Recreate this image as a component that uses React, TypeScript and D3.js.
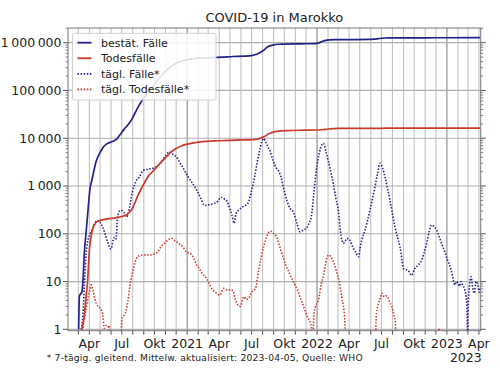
import React from "react";
import * as d3 from "d3";

type P = [string, number];

const cumCases: P[] = [
  ["2020-03-02", 1], ["2020-03-04", 5], ["2020-03-11", 6], ["2020-03-14", 10], ["2020-03-18", 40],
  ["2020-03-23", 110], ["2020-03-28", 300], ["2020-04-03", 900], ["2020-04-08", 1300], ["2020-04-15", 2300],
  ["2020-04-21", 3400], ["2020-05-01", 5000], ["2020-05-10", 6500], ["2020-05-20", 7600], ["2020-06-01", 8300],
  ["2020-06-15", 9300], ["2020-06-25", 11500], ["2020-07-08", 15500], ["2020-07-22", 20500], ["2020-08-01", 27000],
  ["2020-08-14", 42000], ["2020-09-01", 70000], ["2020-09-15", 95000], ["2020-10-01", 135000], ["2020-10-15", 180000],
  ["2020-11-01", 250000], ["2020-11-15", 310000], ["2020-12-01", 370000], ["2020-12-15", 410000], ["2021-01-01", 440000],
  ["2021-01-20", 465000], ["2021-02-10", 476000], ["2021-03-10", 487000], ["2021-04-10", 500000], ["2021-05-10", 514000],
  ["2021-06-10", 523000], ["2021-07-01", 538000], ["2021-07-15", 575000], ["2021-08-01", 670000], ["2021-08-15", 820000],
  ["2021-09-01", 900000], ["2021-09-15", 928000], ["2021-10-01", 937000], ["2021-11-01", 946000], ["2021-12-01", 950000],
  ["2021-12-28", 958000], ["2022-01-06", 990000], ["2022-01-15", 1060000], ["2022-01-25", 1120000], ["2022-02-05", 1150000],
  ["2022-02-20", 1160000], ["2022-04-01", 1163000], ["2022-05-25", 1168000], ["2022-06-10", 1185000], ["2022-06-25", 1225000],
  ["2022-07-10", 1252000], ["2022-07-25", 1260000], ["2022-08-15", 1264000], ["2022-11-01", 1266000], ["2023-01-01", 1270000],
  ["2023-04-05", 1272000],
];

const cumDeaths: P[] = [
  ["2020-03-11", 1], ["2020-03-18", 2], ["2020-03-23", 5], ["2020-03-27", 10], ["2020-04-01", 45],
  ["2020-04-06", 90], ["2020-04-11", 130], ["2020-04-19", 170], ["2020-05-01", 190], ["2020-05-15", 200],
  ["2020-06-10", 213], ["2020-07-01", 230], ["2020-07-15", 250], ["2020-08-01", 350], ["2020-08-15", 620],
  ["2020-09-01", 1100], ["2020-09-15", 1650], ["2020-10-01", 2200], ["2020-10-15", 2900], ["2020-11-01", 3900],
  ["2020-11-15", 5000], ["2020-12-01", 6100], ["2020-12-15", 6900], ["2021-01-01", 7500], ["2021-01-20", 8000],
  ["2021-02-15", 8500], ["2021-04-01", 8850], ["2021-05-01", 9050], ["2021-06-01", 9200], ["2021-07-01", 9350],
  ["2021-07-20", 9700], ["2021-08-05", 10800], ["2021-08-20", 12500], ["2021-09-05", 13800], ["2021-09-20", 14200],
  ["2021-10-10", 14450], ["2021-11-10", 14700], ["2021-12-31", 14850], ["2022-01-15", 15050], ["2022-02-01", 15600],
  ["2022-02-15", 15900], ["2022-03-05", 16030], ["2022-06-15", 16080], ["2022-07-15", 16200], ["2022-08-15", 16270],
  ["2023-04-05", 16297],
];

const dailyCases: P[] = [
  ["2020-03-09", 1], ["2020-03-14", 2], ["2020-03-18", 8], ["2020-03-22", 30], ["2020-03-27", 67],
  ["2020-04-02", 95], ["2020-04-08", 120], ["2020-04-14", 150], ["2020-04-20", 180], ["2020-04-27", 190],
  ["2020-05-03", 165], ["2020-05-09", 135], ["2020-05-16", 95], ["2020-05-23", 65], ["2020-06-01", 48],
  ["2020-06-07", 75], ["2020-06-11", 85], ["2020-06-15", 78], ["2020-06-19", 210], ["2020-06-25", 300],
  ["2020-06-30", 310], ["2020-07-07", 280], ["2020-07-15", 225], ["2020-07-22", 330], ["2020-07-31", 750],
  ["2020-08-10", 1250], ["2020-08-20", 1550], ["2020-08-30", 2100], ["2020-09-12", 2250], ["2020-09-27", 2350],
  ["2020-10-08", 2600], ["2020-10-18", 3000], ["2020-10-28", 3900], ["2020-11-05", 4700], ["2020-11-12", 5200],
  ["2020-11-20", 4700], ["2020-12-01", 4100], ["2020-12-15", 2800], ["2020-12-29", 1850], ["2021-01-12", 1250],
  ["2021-01-23", 950], ["2021-02-05", 620], ["2021-02-20", 390], ["2021-03-05", 410], ["2021-03-18", 430],
  ["2021-03-28", 480], ["2021-04-06", 580], ["2021-04-15", 540], ["2021-04-23", 480], ["2021-05-01", 330],
  ["2021-05-07", 240], ["2021-05-13", 166], ["2021-05-18", 260], ["2021-05-25", 310], ["2021-06-05", 360],
  ["2021-06-21", 440], ["2021-07-01", 800], ["2021-07-10", 1600], ["2021-07-17", 3200], ["2021-07-24", 5600],
  ["2021-07-30", 8500], ["2021-08-04", 9800], ["2021-08-10", 8300], ["2021-08-16", 6500], ["2021-08-22", 5400],
  ["2021-08-30", 3500], ["2021-09-08", 2400], ["2021-09-16", 2000], ["2021-09-22", 1500], ["2021-09-28", 970],
  ["2021-10-08", 500], ["2021-10-17", 340], ["2021-10-26", 290], ["2021-11-05", 170], ["2021-11-14", 110],
  ["2021-11-24", 120], ["2021-12-02", 130], ["2021-12-10", 170], ["2021-12-16", 230], ["2021-12-23", 700],
  ["2021-12-30", 2150], ["2022-01-07", 4800], ["2022-01-14", 7200], ["2022-01-19", 7800], ["2022-01-26", 5200],
  ["2022-02-02", 3300], ["2022-02-09", 1900], ["2022-02-16", 1100], ["2022-02-23", 550], ["2022-03-02", 300],
  ["2022-03-08", 110], ["2022-03-12", 74], ["2022-03-16", 63], ["2022-03-21", 70], ["2022-03-26", 80],
  ["2022-04-04", 72], ["2022-04-09", 58], ["2022-04-13", 50], ["2022-04-20", 40], ["2022-04-28", 33],
  ["2022-05-02", 50], ["2022-05-07", 75], ["2022-05-16", 120], ["2022-05-23", 190], ["2022-05-30", 320],
  ["2022-06-06", 550], ["2022-06-13", 970], ["2022-06-20", 1800], ["2022-06-27", 3000], ["2022-07-04", 2400],
  ["2022-07-11", 1550], ["2022-07-18", 900], ["2022-07-25", 500], ["2022-08-01", 260], ["2022-08-08", 140],
  ["2022-08-15", 85], ["2022-08-22", 54], ["2022-08-28", 28], ["2022-08-31", 19], ["2022-09-07", 18],
  ["2022-09-14", 17], ["2022-09-24", 13.5], ["2022-10-03", 19], ["2022-10-12", 22], ["2022-10-22", 28],
  ["2022-10-29", 40], ["2022-11-05", 63], ["2022-11-12", 110], ["2022-11-19", 153], ["2022-11-26", 140],
  ["2022-12-03", 120], ["2022-12-12", 80], ["2022-12-20", 55], ["2022-12-26", 42], ["2023-01-03", 28],
  ["2023-01-13", 17.5], ["2023-01-18", 12], ["2023-01-23", 8.5], ["2023-01-28", 10], ["2023-02-01", 9.2],
  ["2023-02-05", 8], ["2023-02-10", 10], ["2023-02-14", 8.5], ["2023-02-19", 7.2], ["2023-02-24", 4.8],
  ["2023-02-27", 2], ["2023-02-28", 0], ["2023-03-02", 3], ["2023-03-05", 7.8], ["2023-03-10", 12.6],
  ["2023-03-14", 7.8], ["2023-03-19", 5.7], ["2023-03-24", 10], ["2023-03-28", 9.2], ["2023-04-02", 6],
  ["2023-04-05", 7],
];

const dailyDeaths: P[] = [
  ["2020-03-12", 0.5], ["2020-03-14", 1], ["2020-03-19", 1.8], ["2020-03-24", 3], ["2020-03-29", 5],
  ["2020-04-02", 6.5], ["2020-04-06", 8.5], ["2020-04-11", 6.6], ["2020-04-16", 4.5], ["2020-04-21", 3.4],
  ["2020-04-29", 2.9], ["2020-05-08", 2.2], ["2020-05-13", 1.05], ["2020-05-18", 1.2], ["2020-05-23", 1.1],
  ["2020-05-27", 1.2], ["2020-05-30", 0], ["2020-06-27", 0], ["2020-07-02", 1.8], ["2020-07-08", 2],
  ["2020-07-13", 2.4], ["2020-07-18", 3.8], ["2020-07-24", 8], ["2020-07-31", 15], ["2020-08-08", 26],
  ["2020-08-15", 33], ["2020-08-29", 36], ["2020-09-17", 36], ["2020-10-06", 39], ["2020-10-20", 54],
  ["2020-11-03", 68], ["2020-11-12", 78], ["2020-11-18", 80], ["2020-11-25", 74], ["2020-12-02", 68],
  ["2020-12-12", 60], ["2020-12-21", 52], ["2020-12-29", 42], ["2021-01-11", 38], ["2021-01-18", 32],
  ["2021-01-27", 23], ["2021-02-06", 17.5], ["2021-02-15", 14], ["2021-02-24", 11.7], ["2021-03-04", 9],
  ["2021-03-11", 7.2], ["2021-03-18", 6.2], ["2021-03-25", 5.7], ["2021-04-03", 5.2], ["2021-04-13", 7.2],
  ["2021-04-20", 6.8], ["2021-04-27", 6.6], ["2021-05-04", 6.8], ["2021-05-11", 6.1], ["2021-05-16", 4.2],
  ["2021-05-21", 3.5], ["2021-05-30", 3.0], ["2021-06-09", 4.8], ["2021-06-16", 4.2], ["2021-06-23", 4.5],
  ["2021-07-02", 6.1], ["2021-07-12", 7.2], ["2021-07-21", 17.5], ["2021-07-28", 32], ["2021-08-04", 54],
  ["2021-08-12", 85], ["2021-08-20", 110], ["2021-08-26", 112], ["2021-09-01", 100], ["2021-09-07", 92],
  ["2021-09-14", 68], ["2021-09-21", 46], ["2021-09-28", 32], ["2021-10-05", 22], ["2021-10-12", 17],
  ["2021-10-19", 13], ["2021-10-24", 10.8], ["2021-10-31", 8.5], ["2021-11-07", 6.6], ["2021-11-14", 4.8],
  ["2021-11-21", 3.5], ["2021-11-28", 2.5], ["2021-12-05", 1.8], ["2021-12-14", 1.3], ["2021-12-18", 0.8],
  ["2021-12-20", 0], ["2021-12-23", 2], ["2021-12-28", 3], ["2022-01-06", 4.5], ["2022-01-13", 9],
  ["2022-01-20", 14], ["2022-01-28", 30], ["2022-02-03", 36], ["2022-02-09", 33], ["2022-02-17", 25],
  ["2022-02-24", 17], ["2022-03-03", 11], ["2022-03-12", 4.5], ["2022-03-20", 1.6], ["2022-03-24", 0],
  ["2022-06-13", 0], ["2022-06-17", 2.2], ["2022-06-23", 3.5], ["2022-06-28", 4.5], ["2022-07-02", 5.7],
  ["2022-07-06", 5], ["2022-07-11", 4.8], ["2022-07-15", 5], ["2022-07-20", 4.5], ["2022-07-25", 3.6],
  ["2022-07-30", 3.0], ["2022-08-05", 2], ["2022-08-09", 1.4], ["2022-08-12", 0], ["2022-12-08", 0],
  ["2022-12-10", 1.05], ["2022-12-12", 0], ["2023-04-05", 0],
];

const yTicks = [1, 10, 100, 1000, 10000, 100000, 1000000];
const yTickLabels = ["1", "10", "100", "1\u2009000", "10\u2009000", "100\u2009000", "1\u2009000\u2009000"];
const monthLabels = ["", "", "", "Apr", "", "", "Jul", "", "", "Okt", "", ""];
const legendItems = [
  { label: "bestät. Fälle", color: "#22228c", dotted: false },
  { label: "Todesfälle", color: "#cc3a2a", dotted: false },
  { label: "tägl. Fälle*", color: "#22228c", dotted: true },
  { label: "tägl. Todesfälle*", color: "#cc3a2a", dotted: true },
];
const title = "COVID-19 in Marokko";
const footnote = "* 7-tägig. gleitend. Mittelw.  aktualisiert: 2023-04-05, Quelle: WHO";

const BLUE = "#22228c";
const RED = "#cc3a2a";
const FONT = "DejaVu Sans, sans-serif";

export default function App() {
  const L = 68, R = 480.7, T = 28, B = 330.7;
  const parse = d3.utcParse("%Y-%m-%d");
  const x = d3
    .scaleUtc()
    .domain([new Date(Date.UTC(2020, 1, 1)), new Date(Date.UTC(2023, 3, 6))])
    .range([L, R]);
  const y = d3.scaleLog().domain([0.935, 2.03e6]).range([B, T]);
  const yv = (v: number) => y(Math.max(v, 0.4));
  const line = d3
    .line<P>()
    .x((d) => x(parse(d[0]) as Date))
    .y((d) => yv(d[1]))
    .curve(d3.curveMonotoneX);

  const months = d3.utcMonth.range(new Date(Date.UTC(2020, 2, 1)), new Date(Date.UTC(2023, 3, 6)));
  const minor: number[] = [];
  for (let e = 0; e <= 6; e++) {
    for (let m = 2; m <= 9; m++) {
      const v = m * Math.pow(10, e);
      if (v < 2.03e6) minor.push(v);
    }
  }

  return (
    <svg width={500} height={375} style={{ position: "absolute", left: 0, top: 0, background: "#fff" }} fontFamily={FONT}>
      <defs>
        <clipPath id="plot">
          <rect x={L} y={T} width={R - L} height={B - T} />
        </clipPath>
      </defs>
      <rect x={0} y={0} width={500} height={375} fill="#fff" />
      <text x={(L + R) / 2} y={21.7} textAnchor="middle" fontSize={13} fill="#222">
        {title}
      </text>
      {months.map((m, i) => (
        <line
          key={"vg" + i}
          x1={x(m)}
          x2={x(m)}
          y1={T}
          y2={B}
          stroke={m.getUTCMonth() === 0 ? "#999" : "#c2c2c2"}
          strokeWidth={m.getUTCMonth() === 0 ? 1.3 : 1.1}
        />
      ))}
      {yTicks.map((t, i) => (
        <line key={"hg" + i} x1={L} x2={R} y1={y(t)} y2={y(t)} stroke="#b0b0b0" strokeWidth={1.2} />
      ))}
      <g clipPath="url(#plot)" fill="none">
        <path d={line(dailyDeaths) || ""} stroke={RED} strokeWidth={1.6} strokeDasharray="1.5,1.6" />
        <path d={line(dailyCases) || ""} stroke={BLUE} strokeWidth={1.6} strokeDasharray="1.5,1.6" />
        <path d={line(cumDeaths) || ""} stroke={RED} strokeWidth={1.7} />
        <path d={line(cumCases) || ""} stroke={BLUE} strokeWidth={1.7} />
      </g>
      <rect x={L} y={T} width={R - L} height={B - T} fill="none" stroke="#777" strokeWidth={1} />
      {yTicks.map((t, i) => (
        <g key={"yt" + i}>
          <line x1={L - 5} x2={L} y1={y(t)} y2={y(t)} stroke="#555" />
          <line x1={R} x2={R + 5} y1={y(t)} y2={y(t)} stroke="#555" />
          <text x={L - 6.5} y={y(t)} dy="0.36em" textAnchor="end" fontSize={12.5} fill="#222">
            {yTickLabels[i]}
          </text>
        </g>
      ))}
      {minor.map((t, i) => (
        <g key={"ym" + i}>
          <line x1={L - 2.5} x2={L} y1={y(t)} y2={y(t)} stroke="#666" strokeWidth={0.8} />
          <line x1={R} x2={R + 2.5} y1={y(t)} y2={y(t)} stroke="#666" strokeWidth={0.8} />
        </g>
      ))}
      {months.map((m, i) => {
        const mo = m.getUTCMonth();
        const lab = mo === 0 ? String(m.getUTCFullYear()) : monthLabels[mo];
        return (
          <g key={"xt" + i}>
            <line x1={x(m)} x2={x(m)} y1={B} y2={B + 4} stroke="#555" />
            {lab && (
              <text x={x(m)} y={348} textAnchor="middle" fontSize={12.5} fill="#222">
                {lab}
              </text>
            )}
          </g>
        );
      })}
      <text x={R + 1} y={362} textAnchor="end" fontSize={12.5} fill="#222">
        2023
      </text>
      <rect x={72.5} y={33.3} width={143.5} height={66.7} rx={2} fill="#fff" fillOpacity={0.85} stroke="#d0d0d0" />
      {legendItems.map((it, i) => {
        const yy = 42.7 + i * 15.55;
        return (
          <g key={"lg" + i}>
            <line
              x1={77.5}
              x2={91.5}
              y1={yy}
              y2={yy}
              stroke={it.color}
              strokeWidth={1.8}
              strokeDasharray={it.dotted ? "1.5,1.6" : undefined}
            />
            <text x={101} y={yy} dy="0.36em" fontSize={11} fill="#222">
              {it.label}
            </text>
          </g>
        );
      })}
      <text x={46.7} y={361} fontSize={9.2} fill="#222" textLength={316} lengthAdjust="spacing">
        {footnote}
      </text>
    </svg>
  );
}
